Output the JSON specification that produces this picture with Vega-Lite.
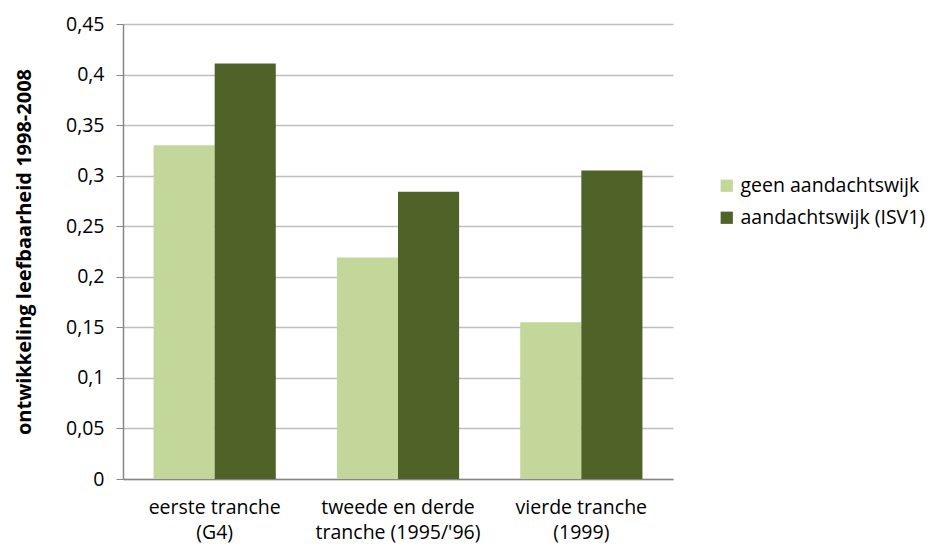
{
  "$schema": "https://vega.github.io/schema/vega-lite/v6.json",
  "width": 550,
  "height": 455,
  "autosize": {"type": "none"},
  "padding": {"left": 123, "top": 24, "right": 266, "bottom": 73},
  "background": "white",
  "config": {
    "font": "Open Sans",
    "view": {"stroke": null}
  },
  "data": {
    "values": [
      {"tranche": "eerste tranche\n(G4)", "groep": "geen aandachtswijk", "waarde": 0.330},
      {"tranche": "eerste tranche\n(G4)", "groep": "aandachtswijk (ISV1)", "waarde": 0.411},
      {"tranche": "tweede en derde\ntranche (1995/'96)", "groep": "geen aandachtswijk", "waarde": 0.219},
      {"tranche": "tweede en derde\ntranche (1995/'96)", "groep": "aandachtswijk (ISV1)", "waarde": 0.284},
      {"tranche": "vierde tranche\n(1999)", "groep": "geen aandachtswijk", "waarde": 0.155},
      {"tranche": "vierde tranche\n(1999)", "groep": "aandachtswijk (ISV1)", "waarde": 0.305}
    ]
  },
  "mark": {"type": "bar"},
  "encoding": {
    "x": {
      "field": "tranche",
      "type": "nominal",
      "sort": null,
      "scale": {"paddingInner": 0.3333, "paddingOuter": 0.1667},
      "axis": {
        "title": null,
        "labelAngle": 0,
        "labelExpr": "split(datum.label, '\\n')",
        "labelFontSize": 19.5,
        "labelColor": "#000000",
        "labelLineHeight": 25,
        "labelPadding": 19,
        "ticks": false,
        "domainColor": "#868686",
        "domainWidth": 1.5,
        "grid": false
      }
    },
    "xOffset": {
      "field": "groep",
      "type": "nominal",
      "sort": ["geen aandachtswijk", "aandachtswijk (ISV1)"],
      "scale": {"paddingInner": 0, "paddingOuter": 0}
    },
    "y": {
      "field": "waarde",
      "type": "quantitative",
      "scale": {"domain": [0, 0.45], "nice": false},
      "axis": {
        "title": "ontwikkeling leefbaarheid 1998-2008",
        "titleFontSize": 20,
        "titleFontWeight": "bold",
        "titleColor": "#000000",
        "titlePadding": 31,
        "values": [0, 0.05, 0.1, 0.15, 0.2, 0.25, 0.3, 0.35, 0.4, 0.45],
        "labelExpr": "replace(format(datum.value, ''), '.', ',')",
        "labelFontSize": 19.5,
        "labelColor": "#000000",
        "labelPadding": 12,
        "tickSize": 7,
        "tickColor": "#868686",
        "domainColor": "#868686",
        "domainWidth": 1.5,
        "gridColor": "#BFBFBF",
        "gridWidth": 1.5
      }
    },
    "color": {
      "field": "groep",
      "type": "nominal",
      "sort": ["geen aandachtswijk", "aandachtswijk (ISV1)"],
      "scale": {"domain": ["geen aandachtswijk", "aandachtswijk (ISV1)"], "range": ["#C4D79B", "#4F6228"]},
      "legend": {
        "title": null,
        "orient": "none",
        "legendX": 594,
        "legendY": 152,
        "symbolType": "square",
        "symbolSize": 150,
        "symbolStrokeWidth": 0,
        "labelFontSize": 19.5,
        "labelColor": "#000000",
        "labelOffset": 4,
        "labelLimit": 400,
        "rowPadding": 11
      }
    }
  }
}
